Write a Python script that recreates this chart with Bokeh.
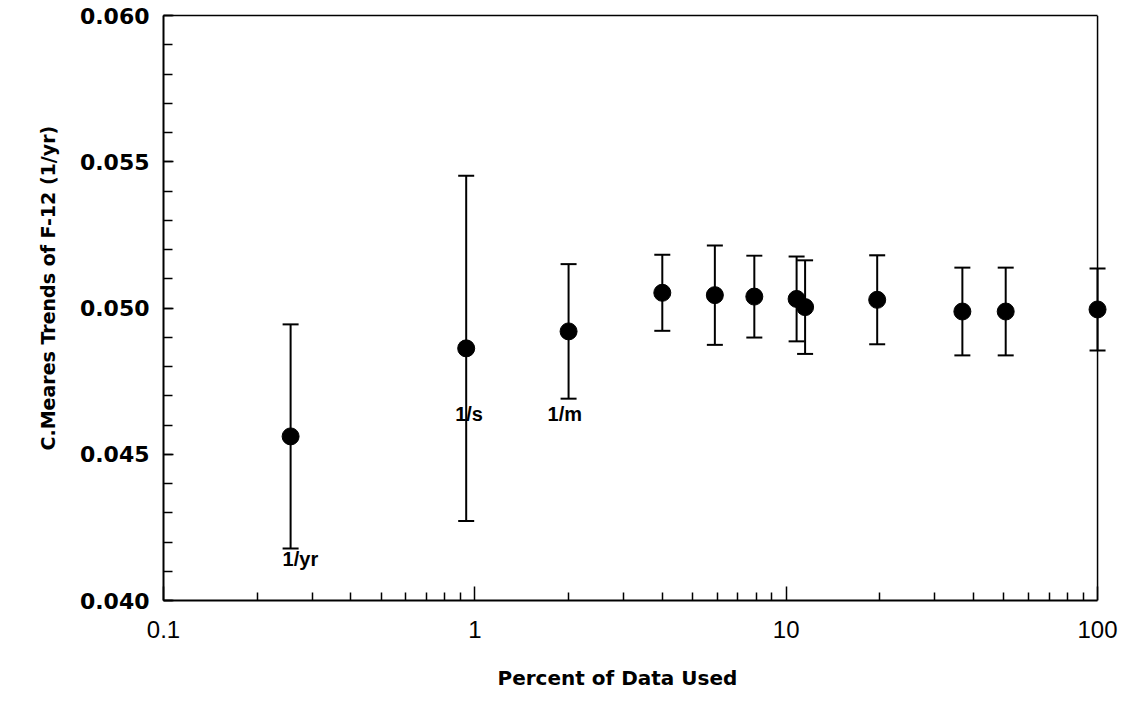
from bokeh.plotting import figure
from bokeh.models import (ColumnDataSource, Whisker, TeeHead, FixedTicker,
                          PrintfTickFormatter, Range1d, LabelSet, LogAxis, Span,
                          Title)
from bokeh.core.properties import value
from bokeh.embed import file_html
from bokeh.resources import INLINE

# Percent of the record used for each trend estimate
pct_used = [0.256, 0.938, 2.0, 4.0, 5.9, 7.9, 10.8, 11.5, 19.6, 36.8, 50.7, 100.0]
# Fitted trend (1/yr) and its uncertainty
trend = [0.04561, 0.04862, 0.04920, 0.05052, 0.05044, 0.05039, 0.05031,
         0.05003, 0.05028, 0.04988, 0.04988, 0.04995]
trend_err = [0.00383, 0.00590, 0.00230, 0.00130, 0.00170, 0.00140, 0.00145,
             0.00160, 0.00152, 0.00150, 0.00150, 0.00140]

# Sampling-interval annotations
interval_labels = ["1/yr", "1/s", "1/m"]
interval_x = [0.256, 0.938, 2.0]
interval_y = [0.04178, 0.04674, 0.04674]

x_major = [0.1, 1, 10, 100]
x_minor = [m * d for d in (0.1, 1, 10) for m in range(2, 10)]
y_major = [0.040, 0.045, 0.050, 0.055, 0.060]
y_minor = [round(0.040 + 0.001 * i, 3) for i in range(21)]

X_LO, X_HI = 0.1, 100.0
Y_LO, Y_HI = 0.040, 0.060
# the frame runs a little past 100 so the last marker is not clipped;
# the box itself is drawn only up to 100
X_FRAME_HI = 114.2

src = ColumnDataSource(data=dict(
    x=pct_used, y=trend,
    lower=[t - e for t, e in zip(trend, trend_err)],
    upper=[t + e for t, e in zip(trend, trend_err)],
))

p = figure(width=1129, height=723, x_axis_type="log",
           x_range=Range1d(X_LO, X_FRAME_HI), y_range=Range1d(Y_LO, Y_HI),
           output_backend="svg", toolbar_location=None,
           min_border_left=163, min_border_right=14,
           min_border_top=15, min_border_bottom=123)
p.background_fill_color = "white"
p.border_fill_color = "white"
p.grid.visible = False
p.outline_line_color = None

title_font = "DejaVu Sans"

# x axis
xa = p.xaxis[0]
xa.bounds = (X_LO, X_HI)
xa.ticker = FixedTicker(ticks=x_major, minor_ticks=x_minor)
xa.major_label_overrides = {0.1: "0.1", 1: "1", 10: "10", 100: "100"}
xa.major_tick_in = 14
xa.major_tick_out = 0
xa.minor_tick_in = 8
xa.minor_tick_out = 0
xa.axis_line_width = 2
xa.major_tick_line_width = 1.5
xa.minor_tick_line_width = 1.5
xa.major_label_text_font = "Liberation Sans"
xa.major_label_text_font_size = "24px"
xa.major_label_text_color = "black"
xa.major_label_standoff = 20

# plain top edge of the box
top = LogAxis(bounds=(X_LO, X_HI), ticker=FixedTicker(ticks=[], minor_ticks=[]),
              major_tick_out=0, major_tick_in=0, minor_tick_out=0, minor_tick_in=0,
              axis_line_width=1.5, axis_line_color="black",
              major_label_text_font_size="0px")
p.add_layout(top, "above")

# plain right edge of the box at 100 %
p.add_layout(Span(location=X_HI, dimension="height", line_color="black",
                  line_width=1.5))

# y axis
ya = p.yaxis[0]
ya.ticker = FixedTicker(ticks=y_major, minor_ticks=y_minor)
ya.formatter = PrintfTickFormatter(format="%.3f")
ya.major_tick_in = 10
ya.major_tick_out = 0
ya.minor_tick_in = 9
ya.minor_tick_out = 0
ya.axis_line_width = 2
ya.major_tick_line_width = 1.5
ya.minor_tick_line_width = 1.5
ya.major_label_text_font = "DejaVu Sans"
ya.major_label_text_font_style = "bold"
ya.major_label_text_font_size = "22px"
ya.major_label_text_color = "black"
ya.major_label_standoff = 14

# axis titles, set as side titles so they can sit off the box centre
p.add_layout(Title(text="Percent of Data Used", align="left", offset=334,
                   standoff=46, text_font=title_font, text_font_style="bold",
                   text_font_size="20px", text_color="black"), "below")
p.add_layout(Title(text="C.Meares Trends of F-12 (1/yr)", align="left",
                   offset=150, standoff=35, text_font=title_font,
                   text_font_style="bold", text_font_size="19px",
                   text_color="black"), "left")

# error bars
whisk = Whisker(source=src, base="x", upper="upper", lower="lower",
                dimension="height", line_color="black", line_width=2,
                upper_head=TeeHead(size=16, line_width=2, line_color="black"),
                lower_head=TeeHead(size=16, line_width=2, line_color="black"),
                level="underlay")
p.add_layout(whisk)

p.scatter("x", "y", source=src, size=17, marker="circle",
          fill_color="black", line_color="black")

lab_src = ColumnDataSource(data=dict(x=interval_x, y=interval_y,
                                     text=interval_labels,
                                     dx=[-8, -11, -21]))
labels = LabelSet(x="x", y="y", text="text", source=lab_src,
                  x_offset="dx", y_offset=0,
                  text_font=value("Liberation Sans"), text_font_style="bold",
                  text_font_size="20px", text_baseline="top",
                  text_color="black")
p.add_layout(labels)

open("out.html", "w").write(file_html(p, INLINE))
